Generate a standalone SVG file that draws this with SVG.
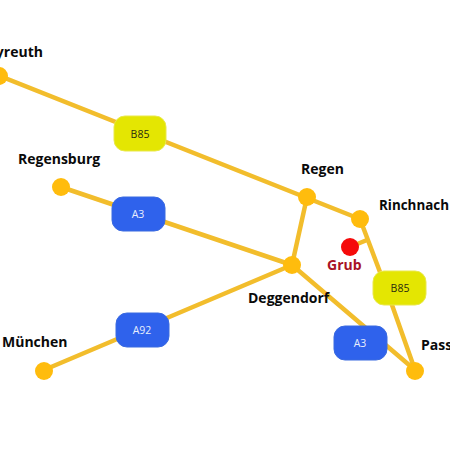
<svg xmlns="http://www.w3.org/2000/svg" width="450" height="450" viewBox="0 0 450 450">
<style>
.c{stroke:#f2bd2c;stroke-width:4.5;fill:none;stroke-linecap:round}
.n{fill:#ffbc0d}
.b{fill:#2f62ec;stroke:#3a6ae0;stroke-width:1}
.y{fill:#e4e602;stroke:#e9e84a;stroke-width:1}
.t{font-family:"Open Sans","Noto Sans",sans-serif;font-weight:700;font-size:14px;fill:#0a0a0a}
.l{font-family:"Open Sans","Noto Sans",sans-serif;font-size:10.5px;text-anchor:middle}
</style>
<rect width="450" height="450" fill="#ffffff"/>
<g id="connectors" class="c">
<line x1="0" y1="76" x2="360" y2="219"/>
<line x1="61" y1="187" x2="292" y2="265"/>
<line x1="44" y1="370" x2="292" y2="265"/>
<line x1="307" y1="197" x2="292" y2="265"/>
<line x1="292" y1="265" x2="415" y2="370"/>
<polyline points="360,219 386,288 415,370"/>
<line x1="350" y1="247" x2="367" y2="240"/>
</g>
<g id="bayreuth"><circle class="n" cx="-1" cy="76" r="9"/><text class="t" x="-22" y="57">Bayreuth</text></g>
<g id="regensburg"><circle class="n" cx="61" cy="187" r="9"/><text class="t" x="18" y="164">Regensburg</text></g>
<g id="muenchen"><circle class="n" cx="44" cy="371" r="9"/><text class="t" x="2" y="347">München</text></g>
<g id="regen"><circle class="n" cx="307" cy="197" r="9"/><text class="t" x="301" y="174">Regen</text></g>
<g id="rinchnach"><circle class="n" cx="360" cy="219" r="9"/><text class="t" x="379" y="210" textLength="70" lengthAdjust="spacingAndGlyphs">Rinchnach</text></g>
<g id="deggendorf"><circle class="n" cx="292" cy="265" r="9"/><text class="t" x="248" y="303">Deggendorf</text></g>
<g id="passau"><circle class="n" cx="415" cy="371" r="9"/><text class="t" x="421" y="350">Passau</text></g>
<g id="grub"><circle cx="350" cy="247" r="9" fill="#f50a0a"/><text class="t" x="327" y="270" style="fill:#a81326">Grub</text></g>
<g id="b85-1"><rect class="y" x="114" y="116" width="52" height="35" rx="11"/><text class="l" x="140" y="138" fill="#2a2a10">B85</text></g>
<g id="a3-1"><rect class="b" x="112" y="197" width="53" height="34" rx="11"/><text class="l" x="138" y="218" fill="#e8eefc">A3</text></g>
<g id="a92"><rect class="b" x="116" y="313" width="53" height="34" rx="11"/><text class="l" x="142" y="334" fill="#e8eefc">A92</text></g>
<g id="b85-2"><rect class="y" x="373" y="271" width="53" height="34" rx="11"/><text class="l" x="400" y="292" fill="#2a2a10">B85</text></g>
<g id="a3-2"><rect class="b" x="334" y="326" width="53" height="34" rx="11"/><text class="l" x="360" y="347" fill="#e8eefc">A3</text></g>
</svg>
